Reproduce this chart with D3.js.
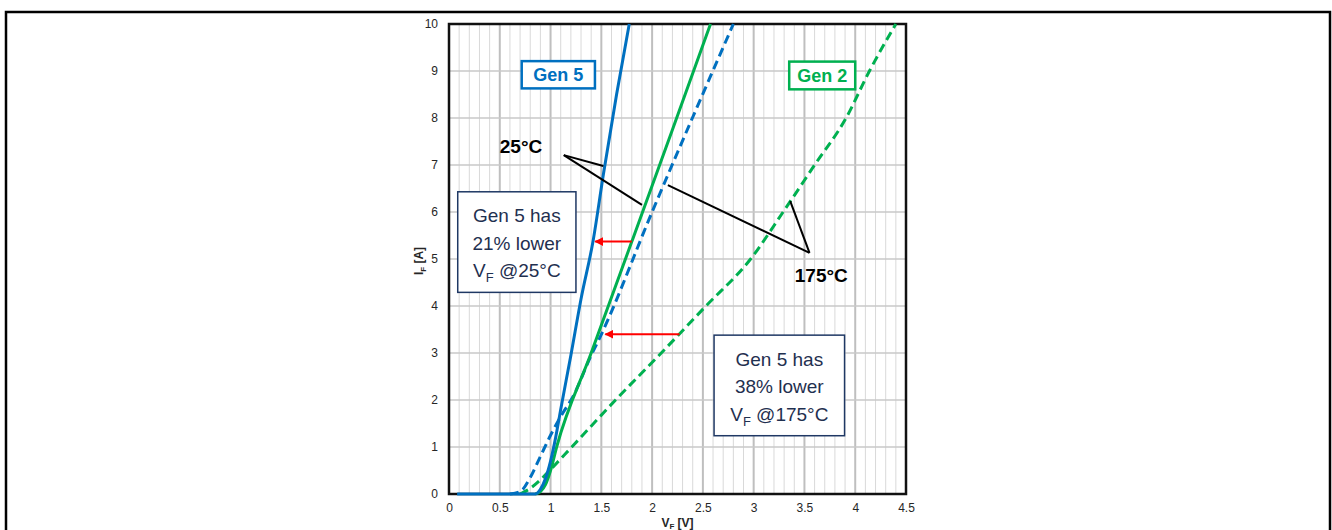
<!DOCTYPE html>
<html>
<head>
<meta charset="utf-8">
<script src="https://cdn.jsdelivr.net/npm/d3@7"></script>
<style>
  body { margin: 0; background: #fff; }
  text { font-family: "Liberation Sans", Arial, sans-serif; }
</style>
</head>
<body>
<svg id="chart" width="1332" height="530"></svg>
<script>
// axis ticks
const xTicks = [0, 0.5, 1, 1.5, 2, 2.5, 3, 3.5, 4, 4.5];
const yTicks = [0, 1, 2, 3, 4, 5, 6, 7, 8, 9, 10];

// forward curves [VF (V), IF (A)]
const gen5At25 = [[0.08, 0], [0.6, 0], [0.85, 0], [0.9, 0.1], [0.95, 0.33], [1.0, 0.7], [1.05, 1.2],
  [1.1, 1.8], [1.2, 2.95], [1.3, 4.15], [1.42, 5.4], [1.52, 6.8], [1.65, 8.5], [1.775, 10]];
const gen2At25 = [[0.85, 0], [0.9, 0.05], [0.95, 0.2], [1.0, 0.5], [1.06, 1.0], [1.4, 3.0],
  [1.8, 5.37], [2.2, 7.75], [2.575, 10]];
const gen5At175 = [[0.6, 0], [0.7, 0.05], [0.8, 0.35], [0.9, 0.8], [1.0, 1.25], [1.1, 1.65],
  [1.22, 2.07], [1.4, 2.95], [1.49, 3.35], [2.0, 6.0], [2.8, 10]];
const gen2At175 = [[0.7, 0], [0.8, 0.12], [0.9, 0.3], [1.0, 0.52], [1.2, 0.98], [1.64, 2.0],
  [2.09, 3.0], [2.53, 4.0], [2.97, 5.0], [3.29, 6.0], [3.6, 7.0], [3.91, 8.0], [4.14, 9.0], [4.4, 10]];

// red comparison arrows at a given IF: from Gen 2 curve to Gen 5 curve
const arrowData = [{i: 5.37, from: 1.80, to: 1.42}, {i: 3.4, from: 2.27, to: 1.52}];

let margin = {top: 24, left: 449},
    width = 457, height = 470;

let svg = d3.select("#chart");

// outer frame
svg.append("rect")
    .attr("x", 6).attr("y", 12)
    .attr("width", 1324).attr("height", 540)
    .attr("fill", "none").attr("stroke", "#000").attr("stroke-width", 2.5);

let g = svg.append("g")
    .attr("transform", "translate(" + margin.left + "," + margin.top + ")");

let xScale = d3.scaleLinear().domain([0, 4.5]).range([0, width]);
let yScale = d3.scaleLinear().domain([0, 10]).range([height, 0]);

//Grid: minor every 0.1 V, major every 0.5 V, horizontal every 1 A
let minor = d3.range(1, 45).map(d => d / 10).filter(d => Math.abs(d * 2 - Math.round(d * 2)) > 1e-6);
g.selectAll(".vminor").data(minor).enter().append("line")
    .attr("x1", d => xScale(d)).attr("x2", d => xScale(d))
    .attr("y1", 0).attr("y2", height)
    .attr("stroke", "#d9d9d9").attr("stroke-width", 1);
g.selectAll(".vmajor").data(xTicks.slice(1, -1)).enter().append("line")
    .attr("x1", d => xScale(d)).attr("x2", d => xScale(d))
    .attr("y1", 0).attr("y2", height)
    .attr("stroke", "#bfbfbf").attr("stroke-width", 2);
g.selectAll(".hgrid").data(yTicks.slice(1, -1)).enter().append("line")
    .attr("x1", 0).attr("x2", width)
    .attr("y1", d => yScale(d)).attr("y2", d => yScale(d))
    .attr("stroke", "#c8c8c8").attr("stroke-width", 1.5);

//Axes
let xAxis = g.append("g")
    .attr("transform", "translate(0," + height + ")")
    .call(d3.axisBottom(xScale).tickValues(xTicks).tickSize(0).tickPadding(9).tickFormat(d3.format("")));
let yAxis = g.append("g")
    .call(d3.axisLeft(yScale).tickValues(yTicks).tickSize(0).tickPadding(11).tickFormat(d3.format("")));
[xAxis, yAxis].forEach(a => {
    a.attr("font-size", 12).attr("font-family", "'Liberation Sans', Arial, sans-serif");
    a.select(".domain").remove();
    a.selectAll("text").style("font-size", "12px").attr("fill", "#262626");
});

// plot frame
g.append("rect")
    .attr("width", width).attr("height", height)
    .attr("fill", "none").attr("stroke", "#111").attr("stroke-width", 2.5);

//Axis labels
let yLab = g.append("text")
    .attr("transform", "translate(-26," + (height / 2 + 2) + ") rotate(-90)")
    .attr("text-anchor", "middle").attr("font-size", 12).attr("font-weight", "bold").attr("fill", "#262626");
yLab.append("tspan").text("I");
yLab.append("tspan").attr("font-size", 8).attr("dy", 3).text("F");
yLab.append("tspan").attr("dy", -3).text(" [A]");

let xLab = g.append("text")
    .attr("x", xScale(2.25)).attr("y", height + 33)
    .attr("text-anchor", "middle").attr("font-size", 12).attr("font-weight", "bold").attr("fill", "#262626");
xLab.append("tspan").text("V");
xLab.append("tspan").attr("font-size", 8).attr("dy", 2).text("F");
xLab.append("tspan").attr("dy", -2).text(" [V]");

//Curves
let line = d3.line()
    .x(d => xScale(d[0]))
    .y(d => yScale(d[1]))
    .curve(d3.curveMonotoneX);

let curves = [
    {data: gen2At175, color: "#00b050", dash: "9,5"},
    {data: gen5At175, color: "#0070c0", dash: "9,5"},
    {data: gen2At25, color: "#00b050", dash: null},
    {data: gen5At25, color: "#0070c0", dash: null}
];
g.selectAll(".curve").data(curves).enter().append("path")
    .attr("class", "curve")
    .attr("d", d => line(d.data))
    .attr("fill", "none")
    .attr("stroke", d => d.color)
    .attr("stroke-width", 3)
    .attr("stroke-dasharray", d => d.dash);

//Leader lines to the temperature labels
let leaders = [
    [[1.13, 7.21], [1.52, 6.98]], [[1.13, 7.21], [1.90, 6.15]],
    [[3.55, 5.13], [2.155, 6.57]], [[3.55, 5.13], [3.36, 6.23]]
];
g.selectAll(".leader").data(leaders).enter().append("line")
    .attr("x1", d => xScale(d[0][0])).attr("y1", d => yScale(d[0][1]))
    .attr("x2", d => xScale(d[1][0])).attr("y2", d => yScale(d[1][1]))
    .attr("stroke", "#000").attr("stroke-width", 2);

g.append("text").attr("x", xScale(0.5)).attr("y", yScale(7.25))
    .attr("font-size", 19).attr("font-weight", "bold").attr("fill", "#000").text("25°C");
g.append("text").attr("x", xScale(3.405)).attr("y", yScale(4.52))
    .attr("font-size", 19).attr("font-weight", "bold").attr("fill", "#000").text("175°C");

//Series tags
let tags = [
    {text: "Gen 5", color: "#0070c0", x0: 0.716, x1: 1.437, y0: 9.21, y1: 8.63},
    {text: "Gen 2", color: "#00b050", x0: 3.35, x1: 4.0, y0: 9.2, y1: 8.61}
];
tags.forEach(t => {
    g.append("rect")
        .attr("x", xScale(t.x0)).attr("y", yScale(t.y0))
        .attr("width", xScale(t.x1) - xScale(t.x0)).attr("height", yScale(t.y1) - yScale(t.y0))
        .attr("fill", "#fff").attr("stroke", t.color).attr("stroke-width", 2.5);
    g.append("text")
        .attr("x", (xScale(t.x0) + xScale(t.x1)) / 2).attr("y", (yScale(t.y0) + yScale(t.y1)) / 2 + 6.5)
        .attr("text-anchor", "middle").attr("font-size", 18).attr("font-weight", "bold")
        .attr("fill", t.color).text(t.text);
});

//Red arrows
svg.append("defs").append("marker")
    .attr("id", "head").attr("viewBox", "0 0 10 10")
    .attr("refX", 9).attr("refY", 5)
    .attr("markerWidth", 4.5).attr("markerHeight", 4.5)
    .attr("orient", "auto")
    .append("path").attr("d", "M0,0L10,5L0,10Z").attr("fill", "#ff0000");
g.selectAll(".arrow").data(arrowData).enter().append("line")
    .attr("x1", d => xScale(d.from)).attr("x2", d => xScale(d.to) + 2)
    .attr("y1", d => yScale(d.i)).attr("y2", d => yScale(d.i))
    .attr("stroke", "#ff0000").attr("stroke-width", 2)
    .attr("marker-end", "url(#head)");

//Comparison boxes
let notes = [
    {lines: ["Gen 5 has", "21% lower", "@25°C"], x0: 0.086, x1: 1.25, y0: 6.43, y1: 4.29},
    {lines: ["Gen 5 has", "38% lower", "@175°C"], x0: 2.61, x1: 3.895, y0: 3.38, y1: 1.24}
];
notes.forEach(n => {
    let x0 = xScale(n.x0), x1 = xScale(n.x1), y0 = yScale(n.y0), y1 = yScale(n.y1);
    g.append("rect")
        .attr("x", x0).attr("y", y0).attr("width", x1 - x0).attr("height", y1 - y0)
        .attr("fill", "#fff").attr("stroke", "#1f3864").attr("stroke-width", 1.5);
    let cx = (x0 + x1) / 2, step = (y1 - y0) / 3.65, top = y0 + step * 0.85 + 7;
    g.append("text").attr("x", cx).attr("y", top)
        .attr("text-anchor", "middle").attr("font-size", 19).attr("fill", "#1f3050").text(n.lines[0]);
    g.append("text").attr("x", cx).attr("y", top + step)
        .attr("text-anchor", "middle").attr("font-size", 19).attr("fill", "#1f3050").text(n.lines[1]);
    let t = g.append("text").attr("x", cx).attr("y", top + 2 * step)
        .attr("text-anchor", "middle").attr("font-size", 19).attr("fill", "#1f3050");
    t.append("tspan").text("V");
    t.append("tspan").attr("font-size", 13).attr("dy", 5).text("F");
    t.append("tspan").attr("dy", -5).text(" " + n.lines[2]);
});
</script>
</body>
</html>
